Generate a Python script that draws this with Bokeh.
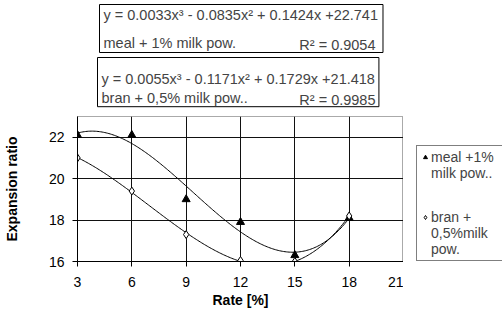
import numpy as np
from bokeh.plotting import figure
from bokeh.layouts import column, row
from bokeh.models import (Range1d, FixedTicker, Label, Legend, LegendItem)
from bokeh.embed import file_html
from bokeh.resources import INLINE

# ---- data ----
rate = [3, 6, 9, 12, 15, 18]
meal = [22.1, 22.1, 19.0, 17.9, 16.3, 18.1]
bran = [21.0, 19.4, 17.3, 16.05, 16.0, 18.2]
x_ticks = [3, 6, 9, 12, 15, 18, 21]
y_ticks = [16, 18, 20, 22]
eq_meal = "y = 0.0033x\u00b3 - 0.0835x\u00b2 + 0.1424x +22.741"
lab_meal = "meal + 1% milk pow."
r2_meal = "R\u00b2 = 0.9054"
eq_bran = "y = 0.0055x\u00b3 - 0.1171x\u00b2 + 0.1729x +21.418"
lab_bran = "bran + 0,5% milk pow.."
r2_bran = "R\u00b2 = 0.9985"
leg_meal = ["meal +1%", "milk pow.."]
leg_bran = ["bran +", "0,5%milk", "pow."]

FONT = "Liberation Sans"
W, H = 502, 316
X0, X1, Y0, Y1 = 3, 21, 16, 23
FL, FT, FW, FH = 77, 116, 326, 145  # chart frame in canvas px
MAIN_H = H - FT
BOTTOM = MAIN_H - FH
LEG_W = W - FL - FW

# ---------------- top strip with equation boxes ----------------
top = figure(width=W, height=FT, output_backend="svg", toolbar_location=None,
             x_range=Range1d(0, W), y_range=Range1d(FT, 0),
             x_axis_location=None, y_axis_location=None, min_border=0)
top.outline_line_color = None
top.grid.visible = False
top.background_fill_color = "white"
top.border_fill_color = "white"

BOX_FS = "14.5px"
box1 = Label(x=99, y=4, text=eq_meal + "\n" + lab_meal, anchor="top_left",
             text_font=FONT, text_font_size=BOX_FS, text_line_height=1.75,
             border_line_color="black", border_line_width=1,
             background_fill_color="white",
             padding=dict(left=4, right=5, top=2, bottom=2))
box2 = Label(x=97, y=57, text=eq_bran + "\n" + lab_bran, anchor="top_left",
             text_font=FONT, text_font_size=BOX_FS, text_line_height=1.2,
             border_line_color="black", border_line_width=1,
             background_fill_color="white",
             padding=dict(left=4, right=4, top=13, bottom=1))
top.add_layout(box1)
top.add_layout(box2)
for txt, py in ((r2_meal, 44), (r2_bran, 99)):
    top.add_layout(Label(x=375, y=py, text=txt, anchor="center_right",
                         text_font=FONT, text_font_size=BOX_FS))

# ---------------- main chart ----------------
p = figure(frame_width=FW, frame_height=FH, output_backend="svg",
           toolbar_location=None, x_range=Range1d(X0, X1), y_range=Range1d(Y0, Y1),
           min_border_left=FL, min_border_right=0, min_border_top=0,
           min_border_bottom=BOTTOM)
p.background_fill_color = "white"
p.border_fill_color = "white"
p.outline_line_color = "#555555"
p.outline_line_dash = "1 1"
p.outline_line_width = 1

p.xaxis.ticker = FixedTicker(ticks=x_ticks)
p.yaxis.ticker = FixedTicker(ticks=y_ticks)
p.xgrid.ticker = FixedTicker(ticks=x_ticks[:-1])
p.ygrid.ticker = FixedTicker(ticks=y_ticks)
for g in (p.xgrid, p.ygrid):
    g.grid_line_color = "#111111"
    g.grid_line_width = 1
for ax in (p.xaxis, p.yaxis):
    ax.axis_line_color = "black"
    ax.major_tick_line_color = "black"
    ax.major_tick_out = 5
    ax.major_tick_in = 0
    ax.minor_tick_line_color = None
    ax.major_label_text_font = FONT
    ax.major_label_text_font_size = "14px"
    ax.major_label_text_color = "black"
    ax.axis_label_text_font = FONT
    ax.axis_label_text_font_size = "14px"
    ax.axis_label_text_font_style = "bold"
    ax.axis_label_text_color = "black"
p.xaxis.axis_label = "Rate [%]"
p.yaxis.axis_label = "Expansion ratio"
p.xaxis.major_label_standoff = 10
p.yaxis.major_label_standoff = 8
p.xaxis.axis_label_standoff = 2
p.yaxis.axis_label_standoff = 26

# trendlines (3rd order polynomial fits of the data)
xs = np.linspace(rate[0], rate[-1], 200)
for ys in (meal, bran):
    c = np.polyfit(rate, ys, 3)
    p.line(xs, np.polyval(c, xs), line_color="black", line_width=1)

MEAL_STYLE = dict(marker="triangle", size=8, fill_color="black", line_color="black")
BRAN_STYLE = dict(marker="diamond", size=8, fill_color="white", line_color="black",
                  line_width=1)
p.scatter(rate, meal, **MEAL_STYLE)
p.scatter(rate, bran, **BRAN_STYLE)

# ---------------- legend strip (frame aligned with the chart frame) ----------------
lg = figure(width=LEG_W, height=MAIN_H, output_backend="svg", toolbar_location=None,
            x_range=Range1d(0, 1), y_range=Range1d(0, 1),
            x_axis_location=None, y_axis_location=None,
            min_border_left=0, min_border_top=0,
            min_border_bottom=BOTTOM, min_border_right=0)
lg.outline_line_color = None
lg.grid.visible = False
lg.background_fill_color = "white"
lg.border_fill_color = "white"
nan = [float("nan")]
lr_meal = lg.scatter(x=nan, y=nan, **MEAL_STYLE)
lr_bran = lg.scatter(x=nan, y=nan, **BRAN_STYLE)
lr_none = lg.scatter(x=nan, y=nan, marker="circle", size=1, fill_alpha=0, line_alpha=0)

items = [LegendItem(label=leg_meal[0], renderers=[lr_meal])]
items += [LegendItem(label=t, renderers=[lr_none]) for t in leg_meal[1:]]
items += [LegendItem(label=" ", renderers=[lr_none]) for _ in range(2)]
items += [LegendItem(label=leg_bran[0], renderers=[lr_bran])]
items += [LegendItem(label=t, renderers=[lr_none]) for t in leg_bran[1:]]

legend = Legend(items=items, location=(416 - (FL + FW), 0), orientation="vertical")
legend.border_line_color = "black"
legend.border_line_width = 1
legend.background_fill_color = "white"
legend.label_text_font = FONT
legend.label_text_font_size = "14px"
legend.label_text_line_height = 1.0
legend.label_width = 95
legend.label_height = 14
legend.glyph_width = 10
legend.glyph_height = 10
legend.label_standoff = 1
legend.spacing = 0
legend.padding = 3
legend.margin = 0
lg.add_layout(legend)

layout = column(top, row(p, lg, spacing=0), spacing=0)
open("out.html", "w").write(file_html(layout, INLINE))
